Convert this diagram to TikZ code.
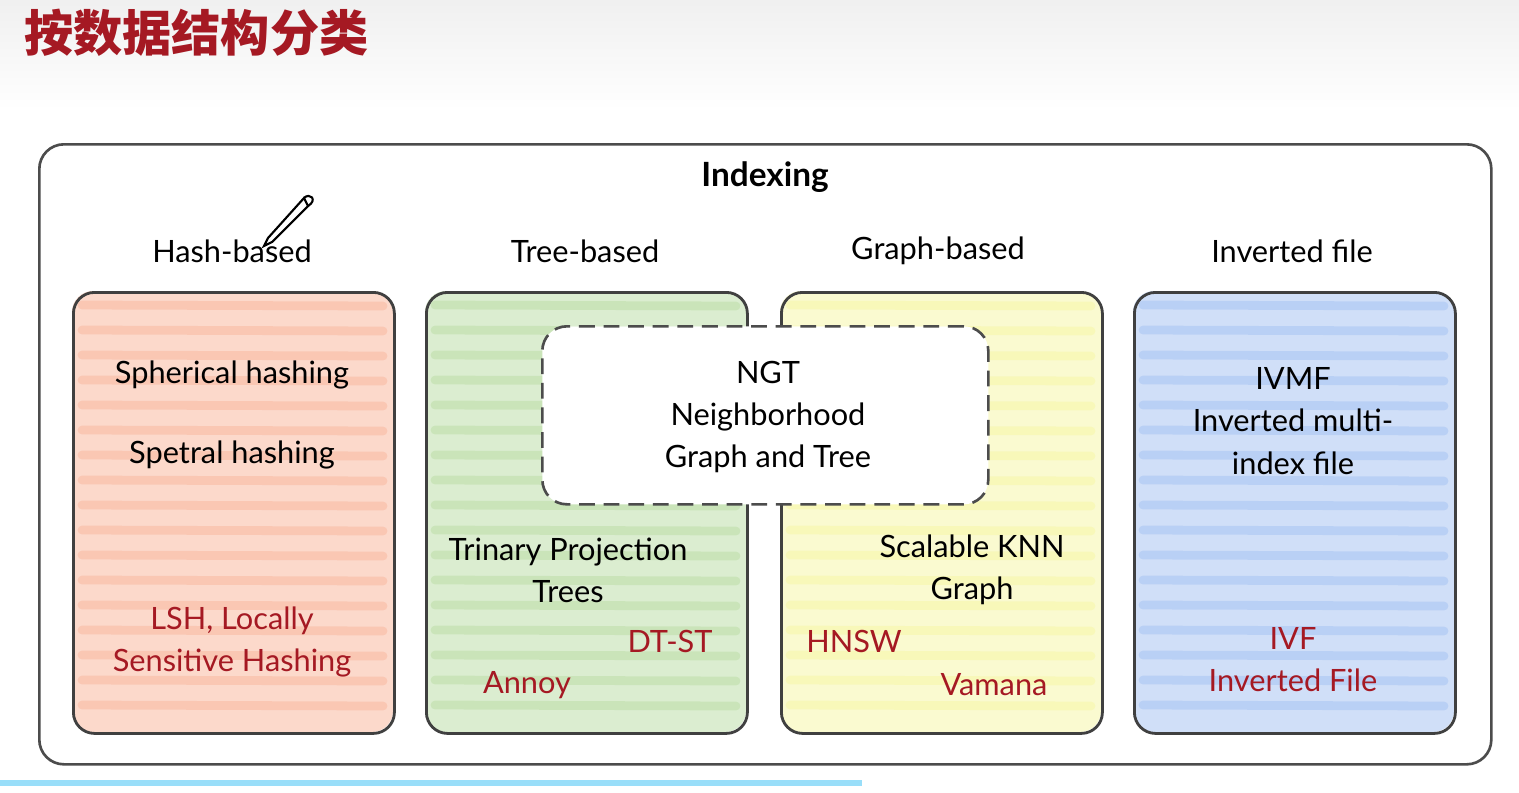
\documentclass[tikz,border=0pt]{standalone}
\usepackage{fontspec}
\setmainfont{Lato}
\newfontfamily\cjk{Noto Sans CJK SC}
\begin{document}
\begin{tikzpicture}[x=0.02cm,y=-0.02cm,
  hdr/.style={font=\fontsize{17.5}{21}\selectfont, align=center},
  txt/.style={font=\fontsize{17.5}{21}\selectfont, align=center},
  red/.style={txt, text=myred},
  cat/.style={draw=black!75, line width=1.6pt, rounded corners=12pt}]
\definecolor{myred}{RGB}{165,25,35}
\definecolor{oran}{RGB}{248,170,140}
\definecolor{gree}{RGB}{175,215,150}
\definecolor{yell}{RGB}{245,245,150}
\definecolor{blu}{RGB}{150,185,240}
\useasboundingbox (0,0) rectangle (1519,792);
\shade[top color=black!6, bottom color=white] (0,0) rectangle (1519,110);
\fill[white] (0,110) rectangle (1519,792);
\node[anchor=west, text=myred, font=\cjk\bfseries\fontsize{28}{32}\selectfont] (title) at (18,33) {按数据结构分类};
\fill[cyan!40] (0,780) rectangle (862,786);
\node[draw=black!70, line width=1.5pt, rounded corners=14pt, minimum width=1452*0.02cm, minimum height=620*0.02cm, anchor=north west] (outer) at (38,143) {};
\node[font=\bfseries\fontsize{19}{22}\selectfont] (idx) at (765,177) {Indexing};
\node[hdr] (h1) at (232,251) {Hash-based};
\node[hdr] (h2) at (585,251) {Tree-based};
\node[hdr] (h3) at (938,251) {Graph-based};
\node[hdr] (h4) at (1292,251) {Inverted file};
% boxes
\foreach \xa/\col/\nm in {72/oran/b1,425/gree/b2,780/yell/b3,1133/blu/b4}{
  \fill[\col!45, rounded corners=12pt] (\xa,291) rectangle ++(321,441);
  \foreach \yy in {305,330,...,720}{
    \draw[\col!80, line width=5pt, opacity=0.6, line cap=round] (\xa+10,\yy) -- (\xa+311,\yy+1);}
  \node[cat, minimum width=321*0.02cm, minimum height=441*0.02cm, anchor=north west] (\nm) at (\xa,291) {};
}
% pencil
\draw[line width=1.2pt, fill=white] (268,238) -- (264,246) -- (272,242) -- (308,206) -- (304,198) -- cycle;
\draw[line width=1.2pt] (304,198) .. controls (310,192) and (318,200) .. (308,206);
\node[draw=black!70, line width=1.5pt, dashed, dash pattern=on 9pt off 5pt, fill=white, rounded corners=14pt, minimum width=446*0.02cm, minimum height=178*0.02cm, anchor=north west] (ngtbox) at (541,325) {};
\node[txt] (ngt) at (768,417) {NGT\\[3pt]Neighborhood\\[3pt]Graph and Tree};
\node[txt] (sph) at (232,375) {Spherical hashing};
\node[txt] (spe) at (232,455) {Spetral hashing};
\node[red] (lsh) at (232,642) {LSH, Locally\\[3pt]Sensitive Hashing};
\node[txt] (tpt) at (568,570) {Trinary Projection\\[3pt]Trees};
\node[red] (dtst) at (670,641) {DT-ST};
\node[red] (annoy) at (527,685) {Annoy};
\node[txt] (sknn) at (972,570) {Scalable KNN\\[3pt]Graph};
\node[red] (hnsw) at (854,641) {HNSW};
\node[red] (vam) at (994,685) {Vamana};
\node[txt] (ivmf) at (1293,421) {IVMF\\[3pt]Inverted multi-\\[3pt]index file};
\node[red] (ivf) at (1293,660) {IVF\\[3pt]Inverted File};
\end{tikzpicture}
\end{document}
